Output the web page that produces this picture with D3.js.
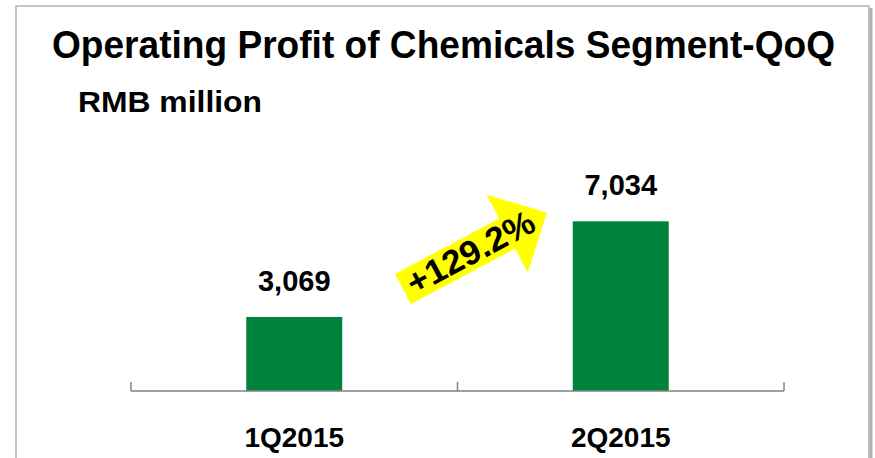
<!DOCTYPE html>
<html>
<head>
<meta charset="utf-8">
<script src="https://cdn.jsdelivr.net/npm/d3@7"></script>
<style>
  html, body { margin: 0; padding: 0; background: #fff; }
  svg { display: block; font-family: "Liberation Sans", Arial, sans-serif; }
</style>
</head>
<body>
<svg id="chart" width="875" height="458"></svg>
<script>
const categories = ["1Q2015", "2Q2015"];
const profits = [3069, 7034];
const valueLabels = ["3,069", "7,034"];
const changeLabel = "+129.2%";
const titleText = "Operating Profit of Chemicals Segment-QoQ";
const unitText = "RMB million";

const svg = d3.select("#chart");
const W = 875, H = 458;
const axisY = 391;

// slide frame with a soft shadow on the right
svg.append("rect")
  .attr("x", 16).attr("y", 6)
  .attr("width", 853).attr("height", 480)
  .attr("fill", "#fff")
  .attr("stroke", "#c4c4c4")
  .attr("stroke-width", 2);
svg.append("line")
  .attr("x1", 871).attr("x2", 871)
  .attr("y1", 8).attr("y2", H)
  .attr("stroke", "#b0b0b0")
  .attr("stroke-width", 3);

svg.append("text")
  .attr("x", 52).attr("y", 58)
  .attr("font-size", 38)
  .attr("font-weight", "bold")
  .attr("fill", "#000")
  .attr("textLength", 783)
  .attr("lengthAdjust", "spacingAndGlyphs")
  .text(titleText);

svg.append("text")
  .attr("x", 78).attr("y", 112)
  .attr("font-size", 30)
  .attr("font-weight", "bold")
  .attr("fill", "#000")
  .attr("textLength", 184)
  .attr("lengthAdjust", "spacingAndGlyphs")
  .text(unitText);

const x = d3.scaleBand()
  .domain(categories)
  .range([131, 784])
  .paddingInner(0)
  .paddingOuter(0);

const y = d3.scaleLinear()
  .domain([0, 8000])
  .range([axisY, 198]);

const barW = 96;
const data = categories.map((c, i) => ({ cat: c, value: profits[i], label: valueLabels[i] }));

svg.selectAll("rect.bar")
  .data(data)
  .enter()
  .append("rect")
  .attr("class", "bar")
  .attr("x", d => x(d.cat) + x.bandwidth() / 2 - barW / 2)
  .attr("y", d => y(d.value))
  .attr("width", barW)
  .attr("height", d => axisY - y(d.value))
  .attr("fill", "#00833a");

// axis line with ticks between categories (pointing up)
const tickXs = categories.map(c => x(c)).concat([x.range()[1]]);
svg.append("line")
  .attr("x1", x.range()[0]).attr("x2", x.range()[1])
  .attr("y1", axisY).attr("y2", axisY)
  .attr("stroke", "#808080")
  .attr("stroke-width", 1.5);
svg.selectAll("line.tick")
  .data(tickXs)
  .enter()
  .append("line")
  .attr("class", "tick")
  .attr("x1", d => d).attr("x2", d => d)
  .attr("y1", axisY).attr("y2", axisY - 9)
  .attr("stroke", "#808080")
  .attr("stroke-width", 1.5);

svg.selectAll("text.val")
  .data(data)
  .enter()
  .append("text")
  .attr("class", "val")
  .attr("x", d => x(d.cat) + x.bandwidth() / 2)
  .attr("y", d => y(d.value) - 26)
  .attr("text-anchor", "middle")
  .attr("font-size", 29)
  .attr("font-weight", "bold")
  .attr("fill", "#000")
  .text(d => d.label);

svg.selectAll("text.cat")
  .data(data)
  .enter()
  .append("text")
  .attr("class", "cat")
  .attr("x", d => x(d.cat) + x.bandwidth() / 2)
  .attr("y", 447)
  .attr("text-anchor", "middle")
  .attr("font-size", 28)
  .attr("font-weight", "bold")
  .attr("fill", "#000")
  .text(d => d.cat);

// yellow growth arrow
const arrow = svg.append("g")
  .attr("transform", "translate(403,289) rotate(-28)");
const L = 118, h = 17, hl = 45, hw = 44;
arrow.append("path")
  .attr("d", `M0,${-h} L${L},${-h} L${L},${-hw} L${L + hl},0 L${L},${hw} L${L},${h} L0,${h} Z`)
  .attr("fill", "#ffff00");
arrow.append("text")
  .attr("x", 77).attr("y", 11)
  .attr("text-anchor", "middle")
  .attr("font-size", 34)
  .attr("font-weight", "bold")
  .attr("fill", "#000")
  .attr("textLength", 140)
  .attr("lengthAdjust", "spacingAndGlyphs")
  .text(changeLabel);
</script>
</body>
</html>
